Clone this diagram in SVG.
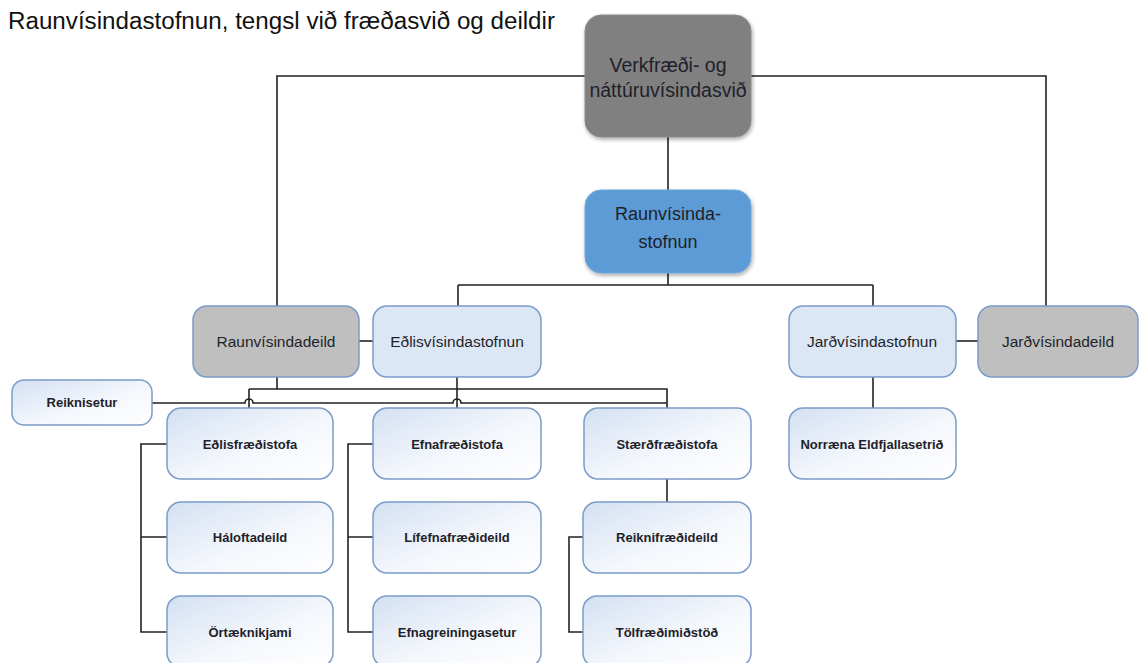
<svg xmlns="http://www.w3.org/2000/svg" width="1140" height="663" viewBox="0 0 1140 663">
<defs>
<linearGradient id="lg" x1="0" y1="0" x2="1" y2="1">
<stop offset="0" stop-color="#d3e0f2"/>
<stop offset="0.55" stop-color="#f4f7fc"/>
<stop offset="1" stop-color="#ffffff"/>
</linearGradient>
<filter id="sh" x="-10%" y="-10%" width="125%" height="130%">
<feGaussianBlur in="SourceAlpha" stdDeviation="2"/>
<feOffset dx="1" dy="2" result="b"/>
<feComponentTransfer><feFuncA type="linear" slope="0.35"/></feComponentTransfer>
<feMerge><feMergeNode/><feMergeNode in="SourceGraphic"/></feMerge>
</filter>
</defs>
<style>
text{font-family:"Liberation Sans",Arial,sans-serif;text-anchor:middle;fill:#1f1f2a}
.title{text-anchor:start;font-size:23px;fill:#111}
.big{font-size:19.5px}
.mid{font-size:18px}
.r2{font-size:15.5px}
.sm{font-size:13px;font-weight:bold}
.box{stroke:#7b9cc8;stroke-width:1.5}
.light{fill:url(#lg)}
.pale{fill:#dce7f5}
.gray{fill:#bfbfbf}
.conn{fill:none;stroke:#222;stroke-width:1.6}
</style>
<rect width="1140" height="663" fill="#ffffff"/>
<text class="title" x="8" y="29" textLength="547" lengthAdjust="spacingAndGlyphs">Raunvísindastofnun, tengsl við fræðasvið og deildir</text>

<g id="connectors">
<path class="conn" d="M585 76 H277 V307"/>
<path class="conn" d="M751 76 H1046 V307"/>
<path class="conn" d="M668 137 V190"/>
<path class="conn" d="M668 273 V285 M458 285 H873 M458 285 V307 M873 285 V307"/>
<path class="conn" d="M359 341 H373"/>
<path class="conn" d="M956 341 H978"/>
<path class="conn" d="M873 377 V408"/>
<path class="conn" d="M277 377 V389 M249 389 H667 V408 M249 389 V408"/>
<path class="conn" d="M457 377 V408"/>
<path class="conn" d="M152 403 H245 A4 4 0 0 1 253 403 H453 A4 4 0 0 1 461 403 H667"/>
<path class="conn" d="M167 444 H141 V632 H167 M141 537 H167"/>
<path class="conn" d="M373 444 H348 V632 H373 M348 537 H373"/>
<path class="conn" d="M667 479 V502"/>
<path class="conn" d="M583 537 H569 V632 H583"/>
</g>

<g id="n-verkfraedi">
<rect x="585" y="15" width="166" height="122" rx="16" fill="#808080" stroke="#8a8a8a" filter="url(#sh)"/>
<text class="big" x="668" y="72">Verkfræði- og</text>
<text class="big" x="668" y="97">náttúruvísindasvið</text>
</g>
<g id="n-raunvisindastofnun">
<rect x="585" y="190" width="166" height="83" rx="16" fill="#5b9bd5" stroke="#6fa6da" filter="url(#sh)"/>
<text class="mid" x="668" y="220">Raunvísinda-</text>
<text class="mid" x="668" y="248">stofnun</text>
</g>
<g id="n-raunvisindadeild">
<rect class="box gray" x="193" y="306" width="166" height="71" rx="14"/>
<text class="r2" x="276" y="347">Raunvísindadeild</text>
</g>
<g id="n-edlisvisindastofnun">
<rect class="box pale" x="373" y="306" width="168" height="71" rx="14"/>
<text class="r2" x="457" y="347">Eðlisvísindastofnun</text>
</g>
<g id="n-jardvisindastofnun">
<rect class="box pale" x="789" y="306" width="167" height="71" rx="14"/>
<text class="r2" x="872" y="347">Jarðvísindastofnun</text>
</g>
<g id="n-jardvisindadeild">
<rect class="box gray" x="978" y="306" width="160" height="71" rx="14"/>
<text class="r2" x="1058" y="347">Jarðvísindadeild</text>
</g>
<g id="n-norraena">
<rect class="box light" x="789" y="408" width="167" height="71" rx="14"/>
<text class="sm" x="872" y="449">Norræna Eldfjallasetrið</text>
</g>
<g id="n-reiknisetur">
<rect class="box light" x="12" y="380" width="140" height="45" rx="12"/>
<text class="sm" x="82" y="407">Reiknisetur</text>
</g>
<g id="n-edlisfraedistofa">
<rect class="box light" x="167" y="408" width="166" height="71" rx="14"/>
<text class="sm" x="250" y="449">Eðlisfræðistofa</text>
</g>
<g id="n-efnafraedistofa">
<rect class="box light" x="373" y="408" width="168" height="71" rx="14"/>
<text class="sm" x="457" y="449">Efnafræðistofa</text>
</g>
<g id="n-staerdfraedistofa">
<rect class="box light" x="584" y="408" width="167" height="71" rx="14"/>
<text class="sm" x="667" y="449">Stærðfræðistofa</text>
</g>
<g id="n-haloftadeild">
<rect class="box light" x="167" y="502" width="166" height="71" rx="14"/>
<text class="sm" x="250" y="542">Háloftadeild</text>
</g>
<g id="n-lifefnafraedideild">
<rect class="box light" x="373" y="502" width="168" height="71" rx="14"/>
<text class="sm" x="457" y="542">Lífefnafræðideild</text>
</g>
<g id="n-reiknifraedideild">
<rect class="box light" x="583" y="502" width="168" height="71" rx="14"/>
<text class="sm" x="667" y="542">Reiknifræðideild</text>
</g>
<g id="n-ortaeknikjami">
<rect class="box light" x="167" y="596" width="166" height="71" rx="14"/>
<text class="sm" x="250" y="637">Örtæknikjami</text>
</g>
<g id="n-efnagreiningasetur">
<rect class="box light" x="373" y="596" width="168" height="71" rx="14"/>
<text class="sm" x="457" y="637">Efnagreiningasetur</text>
</g>
<g id="n-tolfraedimidstod">
<rect class="box light" x="583" y="596" width="168" height="71" rx="14"/>
<text class="sm" x="667" y="637">Tölfræðimiðstöð</text>
</g>
</svg>
